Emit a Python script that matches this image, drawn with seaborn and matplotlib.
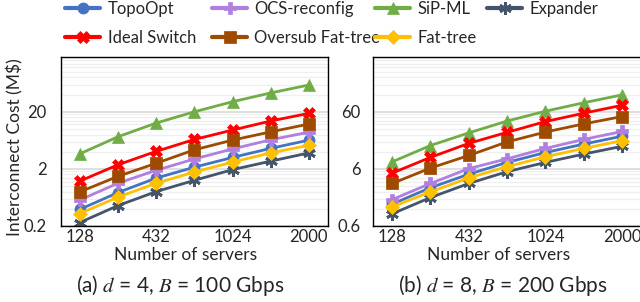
import numpy as np
import pandas as pd
import seaborn as sns
import matplotlib
matplotlib.use('Agg')
from matplotlib import pyplot as plt

# number of servers (only every other one gets a label)
servers = ['128', '250', '432', '686', '1024', '1458', '2000']
tick_labels = ['128', '', '432', '', '1024', '', '2000']

# (a) d = 4, B = 100 Gbps, cost in M$
topoopt_a = [0.39, 0.77, 1.38, 2.14, 3.17, 4.58, 6.38]
ocs_a = [0.57, 1.12, 1.89, 2.98, 4.47, 6.46, 8.8]
sipml_a = [3.67, 7.3, 12.7, 20, 30, 42.8, 58.9]
expander_a = [0.23, 0.455, 0.8, 1.26, 1.94, 2.73, 3.81]
ideal_a = [1.22, 2.36, 4.05, 6.55, 9.57, 13.8, 18.8]
oversub_a = [0.79, 1.48, 2.51, 4.31, 6.38, 8.9, 12.2]
fattree_a = [0.33, 0.64, 1.12, 1.76, 2.63, 3.81, 5.18]

# (b) d = 8, B = 200 Gbps
topoopt_b = [1.45, 2.81, 4.84, 7.79, 11.6, 16.3, 22.4]
ocs_b = [1.74, 3.33, 6.07, 9.0, 13.7, 19.7, 27.1]
sipml_b = [7.97, 15.4, 25.6, 41.3, 61.4, 86.3, 118.6]
expander_b = [0.98, 1.89, 3.33, 5.36, 7.79, 10.9, 14.9]
ideal_b = [5.06, 9.55, 16.8, 26.2, 40.4, 56.7, 77.9]
oversub_b = [3.33, 6.2, 10.3, 17.8, 26.5, 36.8, 49.5]
fattree_b = [1.30, 2.37, 4.17, 6.56, 9.77, 13.7, 18.7]

names = ['TopoOpt', 'OCS-reconfig', 'SiP-ML', 'Expander',
         'Ideal Switch', 'Oversub Fat-tree', 'Fat-tree']
colors = ['#4472C4', '#B07FE0', '#70AD47', '#44546A',
          '#FF0000', '#9E4A00', '#FFC000']
markers = ['o', 'P', '^', (6, 2, 0), 'X', 's', 'D']
msizes = [8, 9, 8, 9, 9, 8, 7]

panels = [
    dict(series=[topoopt_a, ocs_a, sipml_a, expander_a, ideal_a, oversub_a, fattree_a],
         ylim=(0.2, 100), yticks=[0.2, 2, 20], ylabels=['0.2', '2', '20'],
         caption='(a) $d$ = 4, $B$ = 100 Gbps'),
    dict(series=[topoopt_b, ocs_b, sipml_b, expander_b, ideal_b, oversub_b, fattree_b],
         ylim=(0.6, 200), yticks=[0.6, 6, 60], ylabels=['0.6', '6', '60'],
         caption='(b) $d$ = 8, $B$ = 200 Gbps'),
]

sns.set_style('white')
plt.rcParams['font.family'] = ['Lato', 'DejaVu Sans']
plt.rcParams['mathtext.fontset'] = 'stix'

fig = plt.figure(figsize=(6.4, 3.02), dpi=100)
positions = [[0.0948, 0.2517, 0.4177, 0.5586], [0.5828, 0.2517, 0.4190, 0.5586]]
caption_x = [0.282, 0.786]
ypads = [10, 9]

for i, p in enumerate(panels):
    ax = fig.add_axes(positions[i])
    for name, vals, c, m, ms in zip(names, p['series'], colors, markers, msizes):
        df = pd.DataFrame({'servers': servers, 'cost': vals})
        sns.lineplot(data=df, x='servers', y='cost', ax=ax, color=c, marker=m,
                     markersize=ms, mec=c, mfc=c, mew=2 if m == (6, 2, 0) else 0.5,
                     linewidth=2, label=name, legend=False)
    ax.set_yscale('log')
    ax.set_ylim(*p['ylim'])
    base = p['yticks'][0]
    minor = [base * 10 ** k * n for k in range(3) for n in range(2, 10)]
    ax.set_yticks(minor, minor=True)
    ax.set_yticks(p['yticks'])
    ax.set_yticklabels(p['ylabels'])
    ax.yaxis.set_minor_formatter(matplotlib.ticker.NullFormatter())
    ax.set_xlim(-0.5, 6.5)
    ax.set_xticks(range(len(servers)))
    ax.set_xticklabels(tick_labels)
    ax.grid(True, which='major', axis='y', color='#d9d9d9', linewidth=1.2)
    ax.grid(True, which='minor', axis='y', color='#efefef', linewidth=0.9)
    ax.set_axisbelow(True)
    ax.tick_params(which='both', length=0, labelsize=12)
    ax.tick_params(axis='y', pad=ypads[i])
    ax.tick_params(axis='x', pad=2)
    for s in ax.spines.values():
        s.set_color('black')
        s.set_linewidth(1)
    ax.set_xlabel('Number of servers', fontsize=12.5)
    ax.xaxis.set_label_coords(0.468, -0.17)
    ax.xaxis.label.set_va('center')
    if i == 0:
        ax.set_ylabel('Interconnect Cost (M$)', fontsize=12.5)
        ax.yaxis.set_label_coords(-0.171, 0.47)
        ax.yaxis.label.set_va('center')
        handles, labels = ax.get_legend_handles_labels()
    else:
        ax.set_ylabel('')
    fig.text(caption_x[i], 0.053, p['caption'], fontsize=15, ha='center', va='center')

# legend laid out as four columns, each placed where the reference has it
columns = [[0, 4], [1, 5], [2, 6], [3]]
col_x = [65, 212, 375, 487]
for cols, x in zip(columns, col_x):
    leg = fig.legend([handles[k] for k in cols], [labels[k] for k in cols],
                     loc='upper left', bbox_to_anchor=(x / 640, 1 - 1.0 / 302),
                     frameon=False, fontsize=12, handlelength=2.1,
                     handletextpad=0.45, labelspacing=0.8, borderpad=0,
                     borderaxespad=0)
    for line in leg.get_lines():
        line.set_linewidth(3)

fig.savefig('out.png', dpi=100)
